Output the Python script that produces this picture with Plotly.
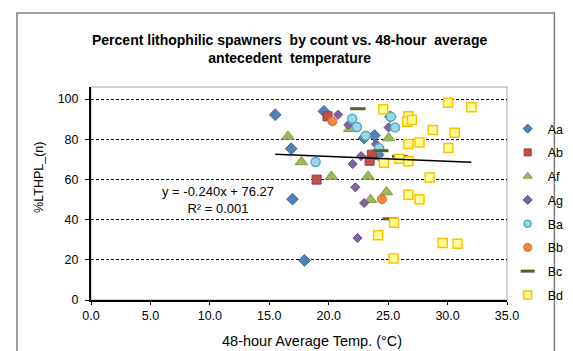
import plotly.graph_objects as go

# ---------------- data ----------------
aa_x = [15.5, 16.84, 16.95, 17.96, 19.6, 22.98, 23.84, 25.18, 24.16]
aa_y = [92.2, 75.3, 50.2, 19.7, 93.9, 80.6, 81.9, 91.2, 72.3]

ab_x = [19.9, 18.98, 23.63, 23.44]
ab_y = [91.4, 59.9, 72.3, 69.3]

af_x = [16.57, 17.7, 20.23, 21.78, 23.31, 23.52, 24.86, 25.04]
af_y = [81.4, 68.7, 61.5, 85.2, 61.5, 49.9, 53.7, 80.6]

ag_x = [20.79, 21.65, 22.72, 22.02, 22.24, 22.98, 22.42, 23.98, 25.04]
ag_y = [92.2, 87.2, 71.6, 67.7, 56.1, 48.3, 30.8, 77.6, 85.9]

ba_x = [18.9, 21.97, 22.37, 23.12, 25.23, 25.58, 24.24]
ba_y = [68.7, 90.2, 86.1, 81.8, 91.2, 85.9, 75.6]

bb_x = [20.31, 24.48]
bb_y = [88.9, 50.2]

bc_x = [22.45, 24.38, 25.98, 25.18]
bc_y = [95.2, 74.3, 71.5, 40.4]

bd_x = [24.59, 26.7, 26.6, 27.0, 30.04, 32.0, 28.76, 30.6, 26.7, 27.64, 30.07,
        24.64, 25.93, 26.7, 28.49, 26.7, 27.64, 25.5, 24.16, 29.59, 30.84, 25.45]
bd_y = [94.9, 91.5, 88.7, 89.6, 98.2, 95.9, 84.6, 83.2, 77.6, 78.4, 75.6,
        68.3, 70.3, 69.0, 61.0, 52.4, 50.2, 38.5, 32.2, 28.4, 28.0, 20.6]

trend_slope = -0.240
trend_intercept = 76.27
trend_label = "y = -0.240x + 76.27<br>R² = 0.001"

x_ticks = [0, 5, 10, 15, 20, 25, 30, 35]
x_tick_labels = ["0.0", "5.0", "10.0", "15.0", "20.0", "25.0", "30.0", "35.0"]
y_ticks = [0, 20, 40, 60, 80, 100]

title_text = ("Percent lithophilic spawners  by count vs. 48-hour  average<br>"
              "antecedent  temperature")
x_title = "48-hour Average Temp. (°C)"
y_title = "%LTHPL_(n)"

# ---------------- figure ----------------
FONT = "Liberation Sans, Arial, sans-serif"
W, H = 573, 351
L, R, T, B = 82.7, 53.7, 79, 59

fig = go.Figure()

# name, x, y, symbol, size, fill, edge, edge width, legend size
series = [
    ("Aa", aa_x, aa_y, "diamond", 9, "#4F81BD", "#3A6699", 1, 7),
    ("Ab", ab_x, ab_y, "square", 9, "#C0504D", "#9A3B38", 1, 7),
    ("Af", af_x, af_y, "triangle-up", 11, "#9BBB59", "#7F9C45", 1, 8),
    ("Ag", ag_x, ag_y, "diamond", 7, "#8064A2", "#654E82", 1, 7),
    ("Ba", ba_x, ba_y, "circle", 9, "#9FD6E6", "#4BACC6", 1.5, 7),
    ("Bb", bb_x, bb_y, "circle", 9, "#F0883E", "#D06E2A", 1, 8),
    ("Bc", bc_x, bc_y, "line-ew", 11, "#4F6228", "#4F6228", 3, 10),
    ("Bd", bd_x, bd_y, "square", 9, "#FFFF99", "#FFC000", 1.5, 8),
]

all_x = []
for name, xs, ys, sym, size, fill, edge, ew, lsize in series:
    all_x += xs
    fig.add_trace(go.Scatter(
        x=xs, y=ys, mode="markers", name=name, legendgroup=name,
        showlegend=False,
        marker=dict(symbol=sym, size=size, color=fill,
                    line=dict(color=edge, width=ew))))
    # legend entry (smaller symbol, as in the reference legend)
    fig.add_trace(go.Scatter(
        x=[None], y=[None], mode="markers", name=name, legendgroup=name,
        showlegend=True,
        marker=dict(symbol=sym, size=lsize, color=fill,
                    line=dict(color=edge, width=ew))))

tx = [min(all_x), max(all_x)]
ty = [trend_slope * v + trend_intercept for v in tx]
fig.add_trace(go.Scatter(x=tx, y=ty, mode="lines", showlegend=False,
                         line=dict(color="black", width=1.5),
                         hoverinfo="skip"))

fig.add_annotation(x=10.7, y=50.0, xref="x", yref="y", text=trend_label,
                   showarrow=False, xanchor="center", yanchor="middle",
                   font=dict(family=FONT, size=13, color="black"),
                   align="center")

pw = W - L - R
ph = H - T - B


def px2paper_x(px):
    return (px - L) / pw


def px2paper_y(py):
    return (H - B - py) / ph


# plot area border (gray)
fig.add_shape(type="rect", xref="paper", yref="paper", x0=0, x1=1, y0=0, y1=1,
              line=dict(color="#A6A6A6", width=1), layer="below")
# outer chart border
fig.add_shape(type="rect", xref="paper", yref="paper",
              x0=px2paper_x(5), x1=px2paper_x(569),
              y0=px2paper_y(345), y1=px2paper_y(5),
              line=dict(color="#7F7F7F", width=1.5), layer="below")

# chart title
fig.add_annotation(x=px2paper_x(291), y=px2paper_y(41), xref="paper",
                   yref="paper", text="<b>" + title_text + "</b>",
                   showarrow=False, xanchor="center", yanchor="middle",
                   align="center",
                   font=dict(family=FONT, size=14, color="black"))

fig.add_annotation(x=px2paper_x(315), y=px2paper_y(333), xref="paper",
                   yref="paper", text=x_title, showarrow=False,
                   font=dict(family=FONT, size=14.5, color="black"),
                   xanchor="center", yanchor="middle")
fig.add_annotation(x=px2paper_x(28), y=px2paper_y(169), xref="paper",
                   yref="paper", text=y_title, showarrow=False, textangle=-90,
                   font=dict(family=FONT, size=12.5, color="black"),
                   xanchor="center", yanchor="middle")

fig.update_layout(
    width=W, height=H,
    margin=dict(l=L, r=R, t=T, b=B),
    paper_bgcolor="white", plot_bgcolor="white",
    font=dict(family=FONT, size=12, color="black"),
    showlegend=True,
    legend=dict(x=px2paper_x(520), y=px2paper_y(106), xanchor="left",
                yanchor="top", bgcolor="rgba(0,0,0,0)",
                font=dict(family=FONT, size=12.5, color="black"),
                traceorder="grouped", tracegroupgap=4.5, itemwidth=30),
    xaxis=dict(range=[0, 35], tickvals=x_ticks, ticktext=x_tick_labels,
               showgrid=False, zeroline=False, showline=True,
               linecolor="black", linewidth=2, ticks="outside", ticklen=3,
               tickcolor="black", tickwidth=1,
               tickfont=dict(family=FONT, size=12.5, color="black")),
    yaxis=dict(range=[0, 106], tickvals=y_ticks, showgrid=True,
               gridcolor="black", gridwidth=1, griddash="3px,2px",
               zeroline=False, showline=True, linecolor="black", linewidth=2,
               ticks="outside", ticklen=4, tickcolor="black", tickwidth=1,
               ticklabelstandoff=4,
               tickfont=dict(family=FONT, size=12.5, color="black")),
)

fig.write_html("out.html")
